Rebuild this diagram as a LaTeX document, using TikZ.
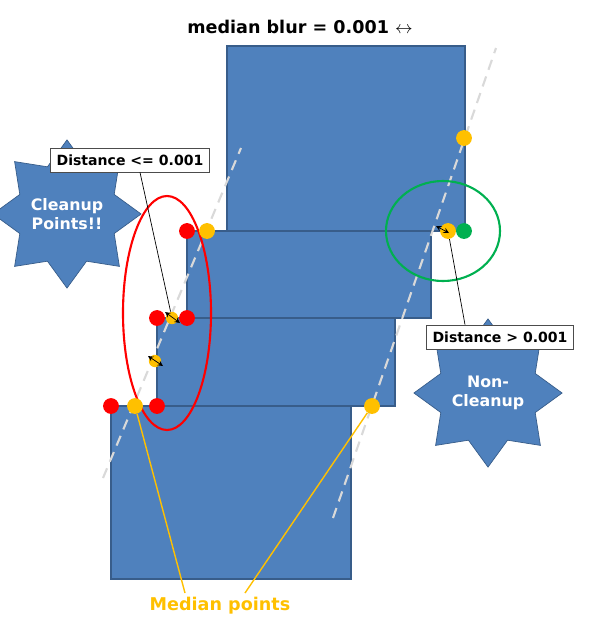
\documentclass[tikz,border=0pt]{standalone}
\usepackage{fontspec}
\setmainfont{DejaVu Sans}
\usetikzlibrary{shapes.geometric, arrows}
\definecolor{block}{RGB}{79,129,189}
\definecolor{blockline}{RGB}{56,93,138}
\definecolor{amber}{RGB}{255,192,0}
\definecolor{leaf}{RGB}{0,176,80}
\tikzstyle{slab} = [draw=blockline, fill=block, thick]
\tikzstyle{medline} = [draw=black!15, very thick, dash pattern=on 6pt off 4pt]
\tikzstyle{reddot} = [circle, fill=red, inner sep=0pt, minimum size=9pt]
\tikzstyle{ambdot} = [circle, fill=amber, inner sep=0pt, minimum size=9pt]
\tikzstyle{burst} = [star, star points=8, star point ratio=1.45, draw=blockline, fill=block, text=white, font=\bfseries\small, align=center, inner sep=0pt]
\tikzstyle{tag} = [rectangle, draw=black!70, fill=white, font=\bfseries\footnotesize, minimum width=3.1cm, minimum height=0.48cm]
\tikzstyle{arrow} = [<->, >=stealth, thin]
\begin{document}
\begin{tikzpicture}[x=0.02cm, y=-0.02cm]
        \useasboundingbox (0,0) rectangle (600,629);
        \node (title) at (300,27) {\bfseries median blur = 0.001 $\leftrightarrow$};

        \draw [slab] (227,46) rectangle (465,231);
        \draw [slab] (187,231) rectangle (431,318);
        \draw [slab] (157,318) rectangle (395,406);
        \draw [slab] (111,406) rectangle (351,579);

        \draw [medline] (103,478) -- (241,148);
        \draw [medline] (333,518) -- (496,48);

        \draw [red, very thick] (167,313) ellipse [x radius=44, y radius=117];
        \draw [leaf, very thick] (443,231) ellipse [x radius=57, y radius=50];

        \node (r1) [reddot] at (187,231) {};
        \node (r2) [reddot] at (157,318) {};
        \node (r3) [reddot] at (187,318) {};
        \node (r4) [reddot] at (111,406) {};
        \node (r5) [reddot] at (157,406) {};
        \node (m1) [ambdot] at (207,231) {};
        \node (m2) [ambdot] at (135,406) {};
        \node (m3) [ambdot] at (372,406) {};
        \node (m4) [ambdot] at (464,138) {};
        \node (m5) [ambdot] at (448,231) {};
        \node (g1) [circle, fill=leaf, inner sep=0pt, minimum size=9pt] at (464,231) {};
        \node (d1) [ambdot, minimum size=7pt] at (172,318) {};
        \node (d2) [ambdot, minimum size=7pt] at (155,361) {};
        \draw [arrow] (165,312) -- (180,323);
        \draw [arrow] (148,356) -- (163,366);
        \draw [arrow] (436,226) -- (449,233);

        \node (cleanup) [burst, minimum size=2.4cm] at (67,214) {Cleanup\\Points!!};
        \node (noncleanup) [burst, minimum size=2.7cm] at (488,393) {Non-\\Cleanup};

        \node (near) [tag] at (130,160) {Distance <= 0.001};
        \node (far) [tag, minimum width=2.9cm] at (500,337) {Distance > 0.001};
        \draw (near.south) ++(10,0) -- (d1);
        \draw (far.north) ++(-35,0) -- (m5);

        \node (median) [text=amber, font=\bfseries] at (220,606) {Median points};
        \draw [amber, thick] (m2) -- (185,593);
        \draw [amber, thick] (m3) -- (245,593);
    \end{tikzpicture}
\end{document}
